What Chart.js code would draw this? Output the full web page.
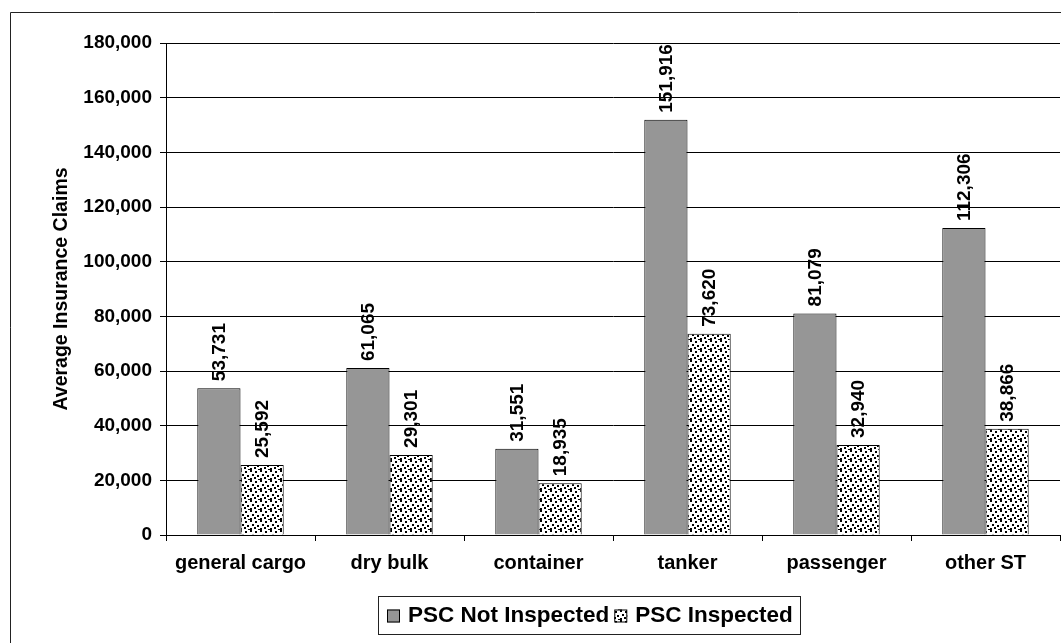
<!DOCTYPE html>
<html>
<head>
<meta charset="utf-8">
<script src="https://cdn.jsdelivr.net/npm/chart.js@4.4.1/dist/chart.umd.min.js"></script>
<style>
  html, body { margin: 0; padding: 0; background: #fff; }
  #wrap { position: relative; width: 1061px; height: 643px; }
</style>
</head>
<body>
<div id="wrap"><canvas id="chart" width="1061" height="643"></canvas></div>
<script>
// Ship types and average insurance claims by PSC inspection status
const shipTypes = ['general cargo', 'dry bulk', 'container', 'tanker', 'passenger', 'other ST'];
const notInspected = [53731, 61065, 31551, 151916, 81079, 112306];
const inspected = [25592, 29301, 18935, 73620, 32940, 38866];
const seriesNames = ['PSC Not Inspected', 'PSC Inspected'];
const axisTitle = 'Average Insurance Claims';
const yMax = 180000;
const yStep = 20000;

const FONT = 'Liberation Sans, Arial, sans-serif';

// Speckled black-on-white fill for the inspected series
function makeDots() {
  const c = document.createElement('canvas');
  c.width = 10; c.height = 10;
  const g = c.getContext('2d');
  g.fillStyle = '#fff';
  g.fillRect(0, 0, 10, 10);
  g.fillStyle = '#000';
  [[0, 0], [5, 1], [2, 4], [7, 5], [8, 9], [4, 7], [0, 8]].forEach(([x, y]) => g.fillRect(x, y, 2, 2));
  return g.createPattern(c, 'repeat');
}
const ctx0 = document.getElementById('chart').getContext('2d');
const dotFill = makeDots();

const fmt = v => v.toLocaleString('en-US');

// Outer frame and framed legend
const framePlugin = {
  id: 'frame',
  beforeDraw(chart) {
    const c = chart.ctx;
    c.save();
    c.fillStyle = '#fff';
    c.fillRect(0, 0, chart.width, chart.height);
    c.strokeStyle = '#222';
    c.lineWidth = 1;
    c.beginPath();
    c.moveTo(10.5, chart.height);
    c.lineTo(10.5, 12.5);
    c.lineTo(chart.width, 12.5);
    c.stroke();
    c.restore();
  },
  afterDraw(chart) {
    const c = chart.ctx;
    c.save();
    const bx = 378, by = 596, bw = 422, bh = 38;
    c.strokeStyle = '#222';
    c.lineWidth = 1;
    c.strokeRect(bx + 0.5, by + 0.5, bw, bh);
    c.font = 'bold 22.5px ' + FONT;
    c.textBaseline = 'middle';
    c.fillStyle = '#000';
    let x = bx + 9;
    const cy = by + bh / 2 + 1;
    chart.data.datasets.forEach((ds, i) => {
      c.fillStyle = ds.backgroundColor;
      c.fillRect(x, cy - 6.5, 13, 13);
      c.strokeStyle = '#000';
      c.strokeRect(x + 0.5, cy - 6.5 + 0.5, 12, 12);
      x += 21;
      c.fillStyle = '#000';
      c.textAlign = 'left';
      c.fillText(ds.label, x, cy);
      x += c.measureText(ds.label).width + 5;
    });
    c.restore();
  }
};

// Rotated value labels above each bar
const valueLabels = {
  id: 'valueLabels',
  afterDatasetsDraw(chart) {
    const c = chart.ctx;
    c.save();
    c.font = 'bold 19px ' + FONT;
    c.fillStyle = '#000';
    c.textAlign = 'left';
    c.textBaseline = 'middle';
    chart.data.datasets.forEach((ds, di) => {
      chart.getDatasetMeta(di).data.forEach((bar, i) => {
        c.save();
        c.translate(bar.x, bar.y - 7);
        c.rotate(-Math.PI / 2);
        c.fillText(fmt(ds.data[i]), 0, 1);
        c.restore();
      });
    });
    c.restore();
  }
};

new Chart(ctx0, {
  type: 'bar',
  data: {
    labels: shipTypes,
    datasets: [
      {
        label: seriesNames[0],
        data: notInspected,
        backgroundColor: '#969696',
        borderColor: '#000',
        borderWidth: 1,
        borderSkipped: 'bottom',
        categoryPercentage: 0.58,
        barPercentage: 1.0
      },
      {
        label: seriesNames[1],
        data: inspected,
        backgroundColor: dotFill,
        borderColor: '#000',
        borderWidth: 1,
        borderSkipped: 'bottom',
        categoryPercentage: 0.58,
        barPercentage: 1.0
      }
    ]
  },
  options: {
    responsive: false,
    animation: false,
    events: [],
    layout: { padding: { left: 0, right: 1, top: 43, bottom: 0 } },
    plugins: {
      legend: { display: false },
      tooltip: { enabled: false },
      title: { display: false }
    },
    scales: {
      x: {
        offset: true,
        grid: {
          display: true,
          offset: true,
          drawOnChartArea: false,
          drawTicks: true,
          tickLength: 6,
          color: '#000',
          lineWidth: 1
        },
        border: { display: true, color: '#000', width: 1 },
        ticks: {
          color: '#000',
          font: { family: FONT, size: 20, weight: 'bold' },
          padding: 10,
          maxRotation: 0,
          autoSkip: false
        },
        afterFit(scale) { scale.height = 108; }
      },
      y: {
        min: 0,
        max: yMax,
        grid: {
          color: '#000',
          lineWidth: 1,
          drawTicks: true,
          tickLength: 6
        },
        border: { display: true, color: '#000', width: 1 },
        ticks: {
          stepSize: yStep,
          color: '#000',
          font: { family: FONT, size: 19, weight: 'bold' },
          padding: 8,
          callback: v => fmt(v)
        },
        title: {
          display: true,
          text: axisTitle,
          color: '#000',
          font: { family: FONT, size: 19.5, weight: 'bold' },
          padding: { top: 50, bottom: 0 }
        },
        afterFit(scale) { scale.width = 166; }
      }
    }
  },
  plugins: [framePlugin, valueLabels]
});
</script>
</body>
</html>
